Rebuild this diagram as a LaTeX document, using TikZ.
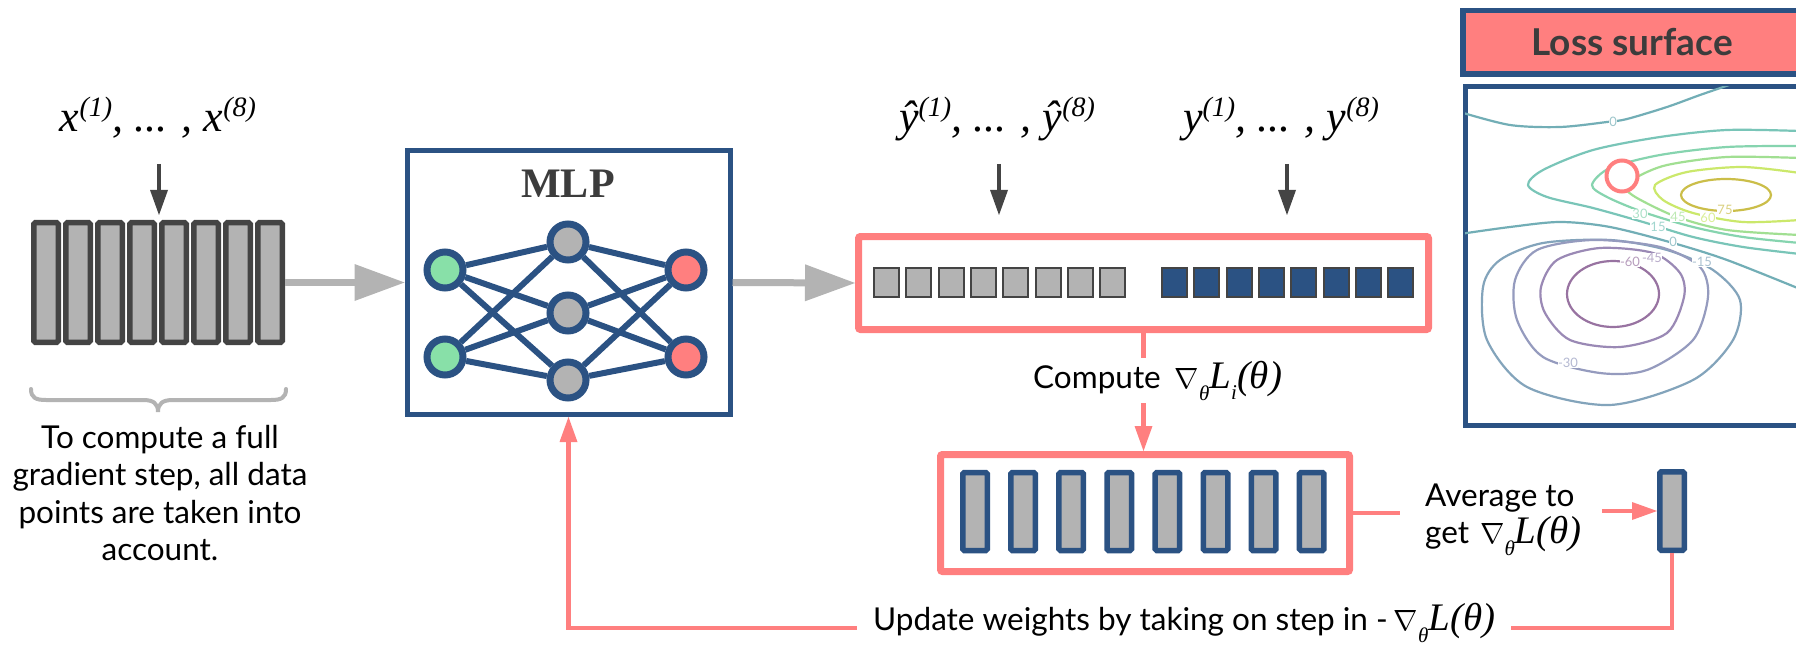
\documentclass[tikz,border=0pt]{standalone}
\usepackage{fontspec}
\usepackage{graphicx}
\setmainfont{Lato}
\newfontfamily\tnr{Liberation Serif}
\usetikzlibrary{arrows.meta}
\definecolor{pk}{HTML}{FF7F7F}
\definecolor{bl}{HTML}{2B5283}
\definecolor{gy}{HTML}{B3B3B3}
\definecolor{dg}{HTML}{444444}
\definecolor{gr}{HTML}{88E0A8}
\definecolor{tx}{HTML}{3C3C3C}
\definecolor{v1}{HTML}{440154}
\definecolor{v2}{HTML}{482878}
\definecolor{v3}{HTML}{3E4989}
\definecolor{v4}{HTML}{31688E}
\definecolor{v5}{HTML}{26828E}
\definecolor{v6}{HTML}{1F9E89}
\definecolor{v7}{HTML}{35B779}
\definecolor{v8}{HTML}{6ECE58}
\definecolor{v9}{HTML}{B5DE2B}
\definecolor{v10}{HTML}{FDE725}
\colorlet{k1}{v1!55!white}
\colorlet{k2}{v2!55!white}
\colorlet{k3}{v3!55!white}
\colorlet{k4}{v4!60!white}
\colorlet{k5}{v5!65!white}
\colorlet{k6}{v6!60!white}
\colorlet{k7}{v7!60!white}
\colorlet{k8}{v8!65!white}
\colorlet{k9}{v9!70!white}
\colorlet{k10}{v10!75!black!80!white}
\newcommand\supx[1]{\raisebox{15pt}{\fontsize{28}{28}\selectfont #1}}
\newcommand\nabsym{\resizebox{!}{20pt}{$\nabla$}}
\newcommand\subth{\raisebox{-12pt}{\fontsize{21}{21}\selectfont\tnr\itshape θ}}
\newcommand\mathL{{\fontsize{39}{39}\selectfont\tnr\itshape L}}
\newcommand\parth{{\fontsize{39}{39}\selectfont\tnr\itshape (θ)}}
\newcommand\subi{\raisebox{-11pt}{\fontsize{21}{21}\selectfont\tnr\itshape i}}
\begin{document}
\begin{tikzpicture}[x=1pt,y=-1pt,
  sbar/.style={draw=dg, fill=gy, line width=5.5pt, minimum width=24.5pt, minimum height=119.5pt, inner sep=0pt, rounded corners=1.5pt},
  gsq/.style={draw=dg, fill=gy, line width=2pt, minimum width=25pt, minimum height=29pt, inner sep=0pt},
  bsq/.style={gsq, fill=bl},
  gbar/.style={draw=bl, fill=gy, line width=5.5pt, minimum width=24.5pt, minimum height=78pt, inner sep=0pt, rounded corners=1.5pt},
  pbox/.style={draw=pk, line width=7pt, inner sep=0pt, rounded corners=2pt},
  neuron/.style={circle, draw=bl, line width=7pt, minimum size=36pt, inner sep=0pt},
  wire/.style={draw=bl, line width=6pt},
  grayarrow/.style={draw=gy, line width=7pt, -{Triangle[length=50pt,width=37pt,line width=0pt]}},
  darrow/.style={draw=dg, line width=3.5pt, -{Triangle[length=25pt,width=18pt,line width=0pt]}},
  parrow/.style={draw=pk, line width=4.5pt, -{Triangle[length=25pt,width=18pt,line width=0pt]}},
  pline/.style={draw=pk, line width=4.5pt},
  sans/.style={font=\fontsize{31.5}{37.5}\selectfont, text=black},
  serlab/.style={font=\fontsize{44}{44}\selectfont\tnr\itshape, text=black, inner sep=0pt, anchor=base},
  cl/.style={line width=2.2pt},
  clab/.style={font=\fontsize{13}{13}\selectfont, fill=white, inner sep=0.5pt}
]
\useasboundingbox (0,0) rectangle (1796,647);

% ---------- input stack ----------
\foreach \i in {0,...,7} \node[sbar] (x\i) at (46+32*\i,282.5) {};
\node[serlab] (xl) at (158,132) {x\supx{(1)}, ... , x\supx{(8)}};
\coordinate (xa) at (159,164);
\draw[darrow, shorten >=5pt] (xa) -- (xa |- x0.north);
\draw[gy, line width=4pt, line cap=round] (31,389) .. controls (31,398) and (36,400) .. (46,400) -- (143,400) .. controls (153,400) and (158,403) .. (158,412) .. controls (158,403) and (163,400) .. (173,400) -- (271,400) .. controls (281,400) and (286,398) .. (286,389);
\node[sans, align=center, inner sep=0pt] (note) at (160,493) {To compute a full\\gradient step, all data\\points are taken into\\account.};

% ---------- MLP ----------
\node[draw=bl, line width=5pt, minimum width=323pt, minimum height=264pt, inner sep=0pt] (mlp) at (568.5,282.5) {};
\node[font=\fontsize{42}{42}\selectfont\tnr\bfseries, text=tx, anchor=base, inner sep=0pt] (mlpt) at (568,198) {MLP};
\node[neuron, fill=gr] (n1) at (445,270) {};
\node[neuron, fill=gr] (n2) at (445,357) {};
\node[neuron, fill=gy] (h1) at (568,242) {};
\node[neuron, fill=gy] (h2) at (568,313) {};
\node[neuron, fill=gy] (h3) at (568,380) {};
\node[neuron, fill=pk] (o1) at (686,270) {};
\node[neuron, fill=pk] (o2) at (686,357) {};
\foreach \a in {n1,n2} \foreach \b in {h1,h2,h3} \draw[wire] (\a) -- (\b);
\foreach \a in {h1,h2,h3} \foreach \b in {o1,o2} \draw[wire] (\a) -- (\b);

\draw[grayarrow] (x7.east) -- (mlp.west);

% ---------- predictions / targets ----------
\node[pbox, minimum width=570pt, minimum height=93pt] (ybox) at (1143.5,283) {};
\foreach \i in {0,...,7} \node[gsq] (p\i) at (886.5+32.3*\i,282.5) {};
\foreach \i in {0,...,7} \node[bsq] (t\i) at (1174.5+32.3*\i,282.5) {};
\draw[grayarrow] (mlp.east) -- (ybox.west);
\node[serlab] (yhl) at (997,132) {ŷ\supx{(1)}, ... , ŷ\supx{(8)}};
\node[serlab] (yl) at (1281,132) {y\supx{(1)}, ... , y\supx{(8)}};
\coordinate (ya) at (999,164);
\coordinate (yb) at (1287,164);
\draw[darrow, shorten >=18pt] (ya) -- (ya |- ybox.north);
\draw[darrow, shorten >=18pt] (yb) -- (yb |- ybox.north);

% ---------- per-sample gradients ----------
\node[pbox, minimum width=409pt, minimum height=117pt] (gbox) at (1145,513) {};
\foreach \i in {0,...,7} \node[gbar] (g\i) at (975+48.1*\i,511.5) {};
\draw[parrow] (ybox.south) -- (ybox.south |- gbox.north);
\node[sans, anchor=base west, fill=white, inner xsep=2pt, inner ysep=3pt] (cmp) at (1031,388) {Compute\hspace{14pt}\nabsym\subth\mathL\subi\parth};

% ---------- average ----------
\node[gbar, minimum height=78.5pt] (gb) at (1672,511) {};
\node[sans, align=left, anchor=west, inner sep=0pt] (avg) at (1425,520) {Average to\\get\hspace{11pt}\nabsym\subth\mathL\parth};
\draw[pline, shorten >=25pt] (gbox.east) -- (gbox.east -| avg.west);
\draw[parrow, shorten <=20pt] (avg.east |- gb.west) -- (gb.west);

% ---------- update ----------
\coordinate (bot) at (0,628);
\draw[parrow] (gb.south) -- (gb.south |- bot) -- (bot -| mlp.south) -- (mlp.south);
\node[sans, anchor=base west, fill=white, inner xsep=16pt, inner ysep=2pt] (upd) at (857,630) {Update weights by taking on step in -\hspace{6pt}\nabsym\subth\mathL\parth};

% ---------- loss surface ----------
\node[draw=bl, fill=pk, line width=5.5pt, minimum width=350pt, minimum height=63.5pt, inner sep=0pt] (ltbox) at (1637.75,42.5) {};
\node[font=\fontsize{37}{37}\selectfont\bfseries, text=tx, inner sep=0pt] (lt) at (1632,42) {Loss surface};
\node[draw=bl, fill=white, line width=5pt, minimum width=350pt, minimum height=339pt, inner sep=0pt] (plotbox) at (1640,256) {};
\begin{scope}
\clip (1465,86.5) rectangle (1800,425.5);
% top zero contour
\draw[k5, cl] plot[smooth] coordinates {(1460,112) (1510,125) (1560,127) (1607,122) (1627,119) (1667,107) (1700,95) (1735,83)};
% positive peak
\draw[k6, cl] plot[smooth] coordinates {(1800,131) (1727,130) (1660,137) (1593,150) (1543,170) (1528,185) (1547,197) (1593,208) (1643,222) (1693,237) (1743,247) (1800,254)};
\draw[k7, cl] plot[smooth] coordinates {(1800,146) (1727,147) (1660,155) (1610,168) (1592,185) (1607,197) (1643,212) (1693,227) (1743,237) (1800,243)};
\draw[k8, cl] plot[smooth] coordinates {(1800,158) (1727,157) (1667,165) (1637,177) (1625,187) (1637,198) (1677,217) (1727,230) (1800,235)};
\draw[k9, cl] plot[smooth] coordinates {(1800,173) (1743,167) (1687,172) (1655,185) (1663,200) (1693,213) (1743,222) (1800,220)};
\draw[k10, cl] (1726,195) ellipse [x radius=45, y radius=16];
% middle zero contour
\draw[k5, cl] plot[smooth] coordinates {(1460,234) (1510,227) (1560,222) (1610,227) (1673,243) (1727,260) (1800,289)};
% negative trough
\draw[k4, cl] plot[smooth cycle] coordinates {(1483,287) (1500,260) (1543,243) (1610,240) (1667,250) (1713,270) (1740,300) (1733,340) (1693,380) (1610,405) (1527,387) (1487,340)};
\draw[k3, cl] plot[smooth cycle] coordinates {(1515,280) (1537,250) (1593,240) (1660,247) (1700,267) (1708,297) (1693,340) (1647,370) (1600,373) (1543,357) (1517,320)};
\draw[k2, cl] plot[smooth cycle] coordinates {(1541,287) (1557,260) (1600,248) (1653,253) (1680,273) (1684,297) (1667,333) (1620,347) (1570,340) (1545,313)};
\draw[k1, cl] (1613,294) ellipse [x radius=46, y radius=33];
% labels
\node[clab, text=k5!70!white] (c0a) at (1613,122) {0};
\node[clab, text=k7!70!white] (c30) at (1640,214) {30};
\node[clab, text=k6!70!white] (c15) at (1658,227) {15};
\node[clab, text=k8!70!white] (c45) at (1678,217) {45};
\node[clab, text=k9!70!white] (c60) at (1708,218) {60};
\node[clab, text=k10!70!white] (c75) at (1725,210) {75};
\node[clab, text=k5!70!white] (c0b) at (1673,242) {0};
\node[clab, text=k1!70!white] (cm60) at (1630,262) {-60};
\node[clab, text=k2!70!white] (cm45) at (1652,258) {-45};
\node[clab, text=k4!70!white] (cm15) at (1702,262) {-15};
\node[clab, text=k3!70!white] (cm30) at (1568,363) {-30};
\end{scope}
\node[circle, draw=pk, fill=white, line width=4pt, minimum size=31pt, inner sep=0pt] (pt) at (1622,176) {};
\end{tikzpicture}
\end{document}
